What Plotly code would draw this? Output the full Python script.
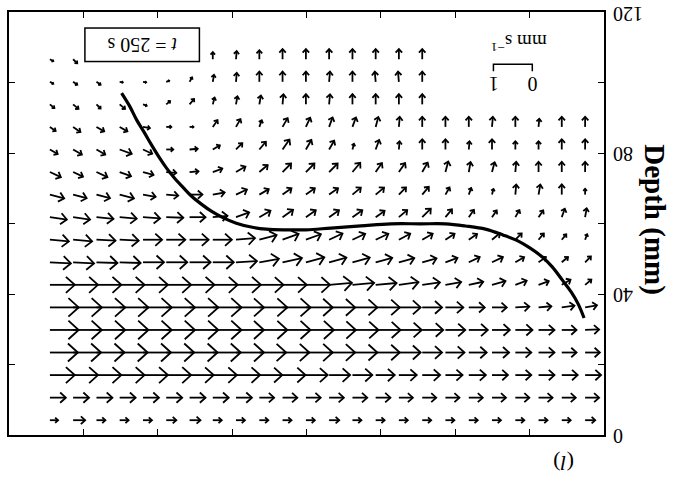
import math
import plotly.graph_objects as go

# ---------------- data ----------------
col_x = [27.5, 43.1, 58.8, 74.4, 90.1, 105.7, 121.4, 137.0, 152.6, 168.3, 183.9, 199.6,
         215.2, 230.9, 246.5, 262.1, 277.8, 293.4, 309.1, 324.7, 340.4, 356.0, 371.6, 387.3]
row_depth = [4.2, 10.6, 17.0, 23.4, 29.8, 36.2, 42.6, 49.0, 55.4, 61.8, 68.2, 74.6,
             81.0, 87.4, 93.8, 100.2, 106.6]

N = None
# speed (mm/s), rows from bottom (shallow depth value) to top
speed = [
    [0.21,0.31,0.23,0.23,0.23,0.26,0.28,0.23,0.23,0.23,0.23,0.23,0.26,0.23,0.23,0.23,0.23,0.23,0.23,0.23,0.23,0.23,0.23,0.26],
    [0.41,0.41,0.41,0.41,0.41,0.41,0.41,0.41,0.41,0.38,0.38,0.38,0.38,0.38,0.38,0.36,0.36,0.36,0.36,0.36,0.36,0.36,0.36,0.36],
    [0.64,0.64,0.64,0.64,0.64,0.64,0.62,0.62,0.62,0.59,0.59,0.56,0.54,0.51,0.49,0.46,0.46,0.44,0.44,0.41,0.41,0.41,0.41,0.41],
    [0.72,0.72,0.72,0.72,0.72,0.72,0.72,0.72,0.72,0.69,0.69,0.69,0.67,0.64,0.62,0.56,0.51,0.49,0.46,0.44,0.41,0.41,0.38,0.38],
    [0.74,0.74,0.74,0.74,0.74,0.74,0.74,0.74,0.72,0.72,0.72,0.72,0.69,0.67,0.64,0.59,0.54,0.51,0.49,0.46,0.44,0.41,0.38,0.36],
    [0.74,0.74,0.74,0.74,0.74,0.74,0.74,0.74,0.72,0.72,0.72,0.69,0.67,0.64,0.62,0.56,0.51,0.46,0.41,0.38,0.36,0.33,0.33,0.31],
    [0.64,0.64,0.64,0.64,0.64,0.64,0.64,0.64,0.64,0.62,0.62,0.62,0.59,0.56,0.54,0.51,0.46,0.41,0.38,0.36,0.31,0.28,0.26,0.21],
    [0.54,0.54,0.54,0.54,0.54,0.54,0.54,0.54,0.54,0.51,0.51,0.49,0.46,0.46,0.44,0.41,0.38,0.33,0.31,0.31,0.26,0.23,0.21,0.21],
    [0.49,0.49,0.49,0.49,0.49,0.49,0.49,0.49,0.49,0.46,0.44,0.41,0.38,0.36,0.36,0.33,0.31,0.28,0.26,0.26,0.23,0.21,0.18,0.15],
    [0.44,0.44,0.44,0.44,0.44,0.44,0.41,0.38,0.36,0.33,0.33,0.31,0.31,0.31,0.28,0.28,0.31,0.26,0.23,0.21,0.21,0.21,0.23,0.23],
    [0.38,0.36,0.36,0.38,0.33,0.31,0.33,0.31,0.31,0.28,0.28,0.28,0.28,0.28,0.28,0.26,0.26,0.21,0.18,0.15,0.26,0.26,0.26,0.15],
    [0.31,0.28,0.31,0.31,0.28,0.26,0.23,0.26,0.28,0.28,0.31,0.31,0.31,0.31,0.28,0.28,0.28,0.28,0.26,0.26,0.26,0.26,0.26,0.26],
    [0.23,0.26,0.26,0.33,0.26,0.18,0.21,0.21,0.23,0.26,0.31,0.28,0.26,0.15,0.26,0.21,0.26,0.26,0.21,0.26,0.21,0.21,0.26,0.26],
    [0.18,0.23,0.23,0.23,0.18,0.13,0.10,0.21,0.23,0.18,0.26,0.26,0.26,0.26,0.26,0.26,0.26,0.26,0.26,0.26,0.26,0.21,0.26,0.26],
    [0.15,0.18,0.15,0.18,0.10,0.13,0.18,0.18,0.21,0.23,0.26,0.26,0.26,0.26,0.26,0.26,0.26,N,N,N,N,N,N,N],
    [0.10,0.13,0.13,0.08,0.08,0.08,0.13,0.18,0.23,0.26,0.26,0.26,0.26,0.26,0.26,0.26,0.26,N,N,N,N,N,N,N],
    [0.10,0.15,N,N,N,N,N,0.18,0.21,0.23,0.26,0.26,0.26,0.26,0.26,0.26,0.26,N,N,N,N,N,N,N],
]
# direction (degrees, counter-clockwise from +x as drawn)
direction = [
    [0,0,0,0,0,0,0,0,0,0,0,0,0,0,0,0,0,0,0,0,0,0,0,0],
    [0,0,0,0,0,0,0,0,0,0,0,0,0,0,0,0,0,0,0,0,0,0,0,0],
    [0,0,0,0,0,0,0,0,0,0,0,0,0,0,0,0,0,0,0,0,0,0,0,0],
    [0,0,0,0,0,0,0,0,0,0,0,0,0,0,0,0,0,0,0,0,0,0,0,0],
    [0,0,0,0,0,0,0,0,0,0,0,0,0,0,0,0,0,0,0,0,0,0,0,2],
    [0,0,0,0,0,0,0,0,0,0,0,0,0,0,0,0,0,0,0,0,3,5,8,10],
    [0,0,0,0,0,0,0,0,0,0,0,0,5,5,5,8,8,10,12,15,20,20,30,40],
    [-3,-3,-2,-2,0,0,0,0,3,10,12,15,15,15,15,15,15,20,25,25,30,35,40,45],
    [-5,-5,-3,-3,0,0,0,0,5,15,20,20,25,25,25,28,30,33,35,40,45,50,50,70],
    [-8,-8,-6,-5,-4,-2,0,5,20,30,35,35,35,35,35,40,45,50,55,55,60,55,70,80],
    [-15,-15,-15,-15,-10,-5,0,10,25,30,35,35,35,40,40,45,50,60,70,75,85,80,90,90],
    [-25,-25,-25,-20,-15,-5,5,20,30,40,45,45,45,50,55,55,60,75,80,75,85,90,90,90],
    [-30,-30,-30,-20,-25,0,5,30,45,50,55,60,60,75,70,85,90,90,85,90,90,90,90,90],
    [-35,-35,-30,-30,-10,0,0,55,60,70,60,65,70,70,75,85,90,90,90,85,90,85,90,90],
    [-40,-40,-45,-40,-20,40,50,75,80,80,85,90,85,90,90,90,90,N,N,N,N,N,N,N],
    [-30,-35,-35,-10,-10,20,60,80,85,90,90,90,85,90,95,95,90,N,N,N,N,N,N,N],
    [-30,-45,N,N,N,N,N,90,85,90,90,90,90,90,90,90,90,N,N,N,N,N,N,N],
]

interface_x = [75.7, 81.1, 85.8, 91.1, 95.8, 101.2, 105.9, 111.2, 117.3, 122.6, 129.3, 136.0,
               144.1, 152.8, 162.8, 172.9, 186.3, 199.7, 216.4, 236.5, 256.6, 276.7, 293.5,
               306.9, 320.3, 332.3, 342.4, 350.4, 358.5, 365.2, 371.9, 377.9, 382.6, 386.6]
interface_depth = [97.0, 93.3, 89.4, 85.7, 82.3, 78.6, 75.7, 72.9, 70.1, 67.8, 65.5, 63.5,
                   61.6, 60.1, 59.0, 58.4, 58.2, 58.2, 58.7, 59.3, 59.9, 59.9, 59.9,
                   59.3, 58.4, 56.7, 55.0, 53.0, 50.5, 47.7, 44.0, 40.6, 37.2, 33.2]

y_tick_labels = ["0", "40", "80", "120"]
y_tick_vals = [0, 40, 80, 120]
scale_values = [0, 1]          # mm/s
scale_origin_x = 351.8
scale_depth = 105.2
time_label = "<i>t</i> = 250 s"
panel_label = "(<i>l</i>)"

# ---------------- layout geometry ----------------
W, H = 675, 480
ML, MR, MT, MB = 7, 71, 12, 45
PW, PH = W - ML - MR, H - MT - MB
X_RANGE = [0, 400]
Y_RANGE = [0, 120]
PX_X = PW / (X_RANGE[1] - X_RANGE[0])
PX_Y = PH / (Y_RANGE[1] - Y_RANGE[0])
PX_PER_SPEED = 39.0
HEAD_FRAC = 0.48
HEAD_ANG = math.radians(42)

ax_, ay_ = [], []
for i, d in enumerate(row_depth):
    for j, x in enumerate(col_x):
        s = speed[i][j]
        th = direction[i][j]
        if s is None or th is None:
            continue
        t = math.radians(th)
        L = s * PX_PER_SPEED
        dxp, dyp = L * math.cos(t), L * math.sin(t)
        tx, ty = x + dxp / PX_X, d + dyp / PX_Y
        ax_ += [x, tx, None]
        ay_ += [d, ty, None]
        b = HEAD_FRAC * L
        back = t + math.pi
        b1 = (tx + b * math.cos(back + HEAD_ANG) / PX_X, ty + b * math.sin(back + HEAD_ANG) / PX_Y)
        b2 = (tx + b * math.cos(back - HEAD_ANG) / PX_X, ty + b * math.sin(back - HEAD_ANG) / PX_Y)
        ax_ += [b1[0], tx, b2[0], None]
        ay_ += [b1[1], ty, b2[1], None]

fig = go.Figure()
fig.add_trace(go.Scatter(x=ax_, y=ay_, mode="lines",
                         line=dict(color="black", width=1.8), hoverinfo="skip"))
fig.add_trace(go.Scatter(x=interface_x, y=interface_depth, mode="lines",
                         line=dict(color="black", width=3.2, shape="spline"), hoverinfo="skip"))

# scale bracket
sx = [scale_origin_x - v * PX_PER_SPEED / PX_X for v in scale_values]
drop = 7 / PX_Y
fig.add_trace(go.Scatter(x=[sx[0], sx[0], sx[1], sx[1]],
                         y=[scale_depth - drop, scale_depth, scale_depth, scale_depth - drop],
                         mode="lines", line=dict(color="black", width=1.5), hoverinfo="skip"))

FONT = "Liberation Serif"
ann = []
for v, lab in zip(scale_values, [str(v) for v in scale_values]):
    ann.append(dict(x=scale_origin_x - v * PX_PER_SPEED / PX_X, y=scale_depth - 20 / PX_Y,
                    xref="x", yref="y", text=lab, showarrow=False, textangle=180,
                    font=dict(family=FONT, size=20, color="black"),
                    xanchor="center", yanchor="middle"))
ann.append(dict(x=342.4, y=111.2, xref="x", yref="y", text="mm s<sup>\u22121</sup>",
                showarrow=False, textangle=180, font=dict(family=FONT, size=19, color="black"),
                xanchor="center", yanchor="middle"))
ann.append(dict(x=89.8, y=110.6, xref="x", yref="y", text=time_label, showarrow=False,
                textangle=180, font=dict(family=FONT, size=20, color="black"),
                width=113, height=32, bordercolor="black", borderwidth=1.5, borderpad=0,
                bgcolor="white", xanchor="center", yanchor="middle"))
for v, lab in zip(y_tick_vals, y_tick_labels):
    wdt = 10.0 * len(lab)
    ann.append(dict(x=1, y=v, xref="paper", yref="y", text=lab, showarrow=False,
                    textangle=180, xshift=9 + wdt / 2, yshift=(-2 if v == 120 else -1),
                    font=dict(family=FONT, size=20, color="black"),
                    xanchor="center", yanchor="middle"))
ann.append(dict(x=1, y=0.51, xref="paper", yref="paper", text="<b>Depth (mm)</b>",
                showarrow=False, textangle=90, xshift=51,
                font=dict(family=FONT, size=29, color="black"),
                xanchor="center", yanchor="middle"))
ann.append(dict(x=0.931, y=-0.066, xref="paper", yref="paper", text=panel_label,
                showarrow=False, textangle=180, font=dict(family=FONT, size=22, color="black"),
                xanchor="center", yanchor="middle"))

fig.update_layout(
    width=W, height=H, margin=dict(l=ML, r=MR, t=MT, b=MB),
    paper_bgcolor="white", plot_bgcolor="white", showlegend=False,
    annotations=ann,
    xaxis=dict(range=X_RANGE, dtick=50, tick0=0, ticks="inside", ticklen=6, tickwidth=1.2,
               tickcolor="black", showline=True, linecolor="black", linewidth=1.5,
               mirror="ticks", showticklabels=False, showgrid=False, zeroline=False),
    yaxis=dict(range=Y_RANGE, dtick=20, tick0=0, ticks="inside", ticklen=6, tickwidth=1.2,
               tickcolor="black", showline=True, linecolor="black", linewidth=1.5,
               mirror="ticks", side="right", showticklabels=False, showgrid=False, zeroline=False),
)
fig.write_html("out.html")
